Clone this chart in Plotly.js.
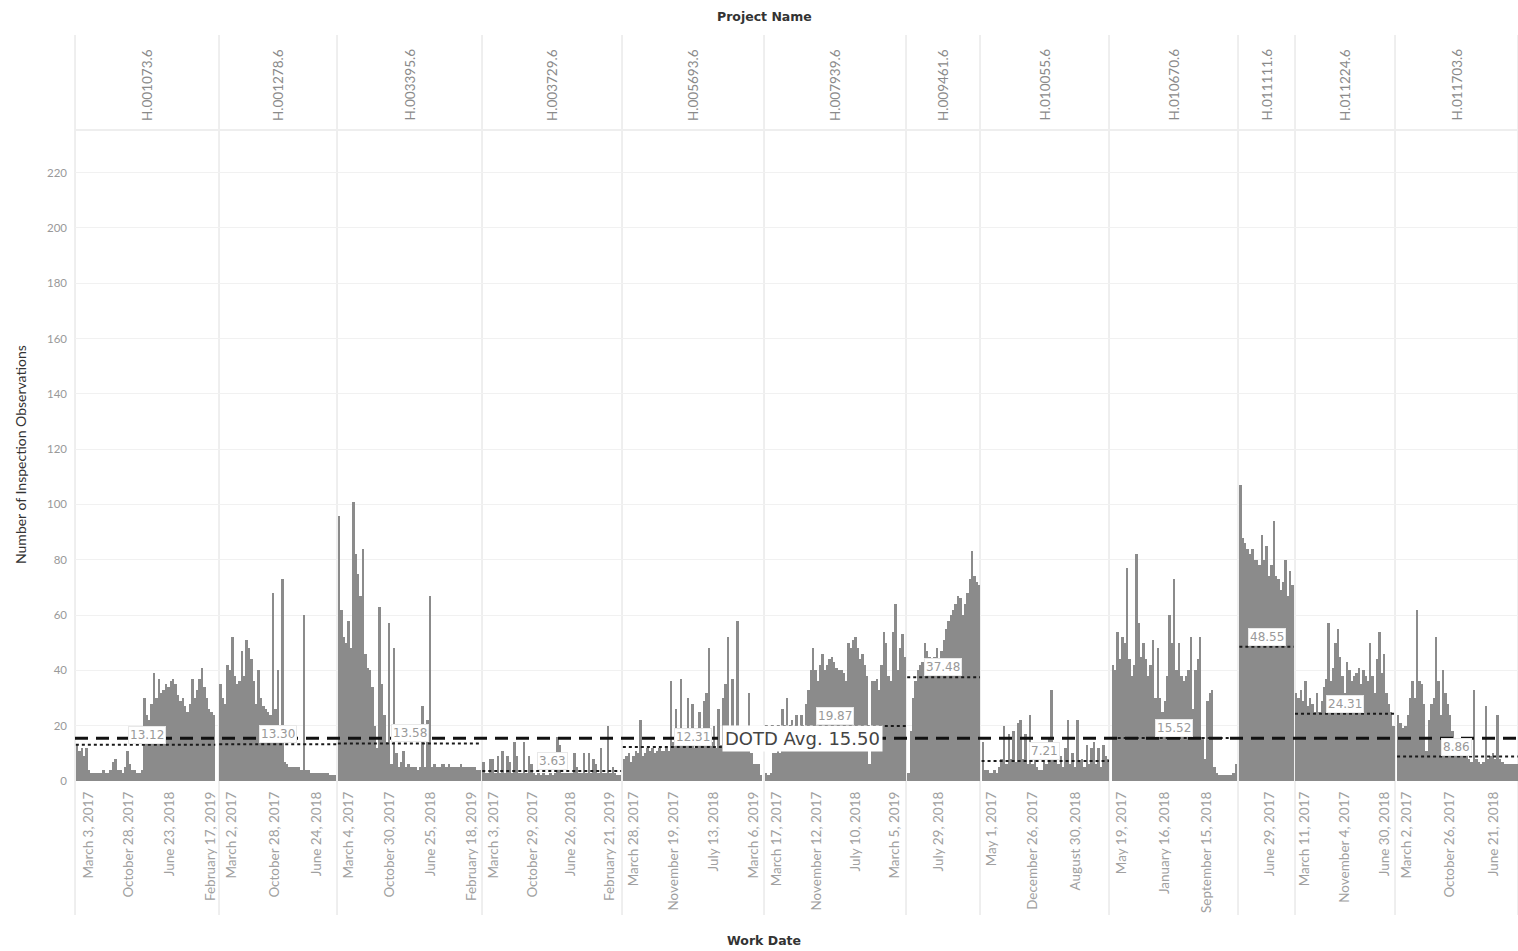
<!DOCTYPE html>
<html><head><meta charset="utf-8">
<script src="https://cdn.plot.ly/plotly-3.0.1.min.js"></script>
<style>html,body{margin:0;padding:0;background:#fff;} #chart{width:1518px;height:951px;}</style>
</head><body><div id="chart"></div>
<script>
// ---------- DATA ----------
const projects = ["H.001073.6","H.001278.6","H.003395.6","H.003729.6","H.005693.6","H.007939.6",
                  "H.009461.6","H.010055.6","H.010670.6","H.011111.6","H.011224.6","H.011703.6"];
const projectAvg = [13.12, 13.30, 13.58, 3.63, 12.31, 19.87, 37.48, 7.21, 15.52, 48.55, 24.31, 8.86];
const dotdAvg = 15.50;
const firstWorkDate = ["2016-12-27","2016-12-28","2017-01-09","2017-01-01","2017-02-01","2017-01-11",
                       "2018-02-03","2017-03-10","2017-03-30","2017-01-06","2017-01-17","2017-01-14"];
const lastWorkDate  = ["2019-03-12","2018-10-05","2019-04-06","2019-04-23","2019-04-20","2019-05-05",
                       "2019-03-28","2019-03-10","2019-02-27","2017-11-09","2018-08-19","2018-10-27"];
const obs1 = [13,11,12,9,12,4,3,3,3,3,3,4,3,3,4,7,8,4,4,3,5,11,6,4,4,3,3,4,30,24,22,28,39,30,37,32,33,35,34,36,37,35,31,29,30,27,25,28,37,30,33,37,41,34,30,26,25,24];
const obs2 = [35,30,28,42,40,52,38,35,36,47,38,51,48,44,36,28,40,30,27,26,25,24,68,26,40,17,73,7,6,5,5,5,5,5,4,60,4,4,3,3,3,3,3,3,3,3,2,2,2];
const obs3 = [96,62,52,50,58,48,101,82,75,67,84,46,41,40,34,20,12,63,35,24,14,57,6,48,10,5,7,11,5,6,5,5,5,4,5,27,5,22,67,5,6,5,5,6,6,5,6,5,5,5,5,6,5,5,5,5,5,5,4,4];
const obs4 = [7,3,3,8,8,3,9,3,11,3,9,7,3,14,9,3,3,14,3,9,6,3,2,3,2,3,2,2,3,2,3,16,13,3,3,3,3,3,10,5,3,3,10,3,10,3,8,6,3,12,3,3,20,3,5,3,2,2];
const obs5 = [8,9,10,7,9,11,10,22,9,10,12,11,12,10,11,12,11,11,12,11,36,14,26,12,37,15,18,30,13,28,12,18,25,12,29,32,48,14,20,12,26,13,30,35,52,14,37,12,58,13,11,11,11,32,10,6,6,6,2];
const obs6 = [3,2,3,10,10,11,10,26,12,30,11,22,12,24,11,24,12,28,33,40,48,40,36,42,46,40,42,44,45,43,41,40,40,39,36,50,48,51,52,48,44,46,42,38,6,36,36,37,33,42,54,50,38,36,54,64,40,48,53,45];
const obs7 = [3,18,30,36,40,42,43,50,47,45,44,45,48,44,47,51,55,58,60,62,64,67,66,60,64,68,73,83,74,72,71];
const obs8 = [14,4,4,3,3,4,3,5,8,20,6,17,8,18,7,21,22,8,17,6,24,6,9,5,4,4,8,6,16,33,8,14,6,9,5,12,22,6,10,5,22,7,8,5,13,6,12,14,6,12,5,13,9,8];
const obs9 = [42,40,54,44,52,50,77,44,38,42,82,57,45,50,44,38,42,51,30,48,30,25,29,38,60,50,73,40,50,38,36,38,40,52,26,40,44,52,16,8,29,32,33,5,3,2,2,2,2,2,2,3,6];
const obs10 = [107,88,86,84,82,84,80,80,78,89,80,85,74,78,94,74,73,69,72,80,67,76,71];
const obs11 = [32,30,33,29,36,27,30,28,25,32,25,29,34,37,57,36,41,50,55,45,38,32,43,40,36,38,39,41,35,40,38,36,50,38,32,44,54,39,46,32,28,25,20];
const obs12 = [24,21,19,20,24,30,36,30,62,36,35,28,11,22,28,30,52,36,24,40,32,28,24,18,14,10,12,11,9,10,8,7,33,8,7,6,7,27,8,9,10,8,24,8,7,6,6,6,6,6,6];
const observations = [obs1,obs2,obs3,obs4,obs5,obs6,obs7,obs8,obs9,obs10,obs11,obs12];
const tickDates = [
  ["2017-03-03","2017-10-28","2018-06-23","2019-02-17"],
  ["2017-03-02","2017-10-28","2018-06-24"],
  ["2017-03-04","2017-10-30","2018-06-25","2019-02-18"],
  ["2017-03-03","2017-10-29","2018-06-26","2019-02-21"],
  ["2017-03-28","2017-11-19","2018-07-13","2019-03-06"],
  ["2017-03-17","2017-11-12","2018-07-10","2019-03-05"],
  ["2018-07-29"],
  ["2017-05-01","2017-12-26","2018-08-30"],
  ["2017-05-19","2018-01-16","2018-09-15"],
  ["2017-06-29"],
  ["2017-03-11","2017-11-04","2018-06-30"],
  ["2017-03-02","2017-10-26","2018-06-21"]
];
const monthNames = ["January","February","March","April","May","June","July","August","September","October","November","December"];

// ---------- LAYOUT CONFIG ----------
const W = 1518, H = 951, ML = 75, MR = 0, MT = 130, MB = 170;
const panelEdgesPx = [75,219,337,482,622,764,906,980,1109,1238,1295,1395,1518];
const axisRanges = [
  ["2016-12-15","2019-04-10"],["2016-12-20","2018-10-16"],["2016-12-28","2019-04-18"],
  ["2016-12-23","2019-05-06"],["2017-01-20","2019-05-08"],["2016-12-30","2019-05-11"],
  ["2018-01-20","2019-04-01"],["2017-02-22","2019-03-15"],["2017-03-08","2019-03-12"],
  ["2016-12-22","2017-11-23"],["2017-01-10","2018-08-28"],["2016-12-27","2018-11-04"]
];
const FONT = "Lato, 'Open Sans', sans-serif";
const FONT2 = "'DejaVu Sans', 'Open Sans', sans-serif";
const plotW = W - ML - MR, plotH = H - MT - MB;
const pxX = px => (px - ML) / plotW;
const pxY = py => (H - MB - py) / plotH;
const fmtDate = s => { const [y,m,d] = s.split("-").map(Number); return monthNames[m-1] + " " + d + ", " + y; };

const traces = [], shapes = [], annotations = [];
const layout = {
  width: W, height: H, margin: {l: ML, r: MR, t: MT, b: MB},
  paper_bgcolor: "#fff", plot_bgcolor: "#fff", showlegend: false, bargap: 0,
  font: {family: FONT, color: "#888"},
  yaxis: {range: [0, 235.4], tickvals: [0,20,40,60,80,100,120,140,160,180,200,220],
          showgrid: true, gridcolor: "#f1f1f1", zeroline: false, showline: false, ticks: "",
          tickfont: {size: 11.5, color: "#999", family: FONT}, ticklabelstandoff: 7, fixedrange: true}
};

projects.forEach((name, k) => {
  const ax = k === 0 ? "x" : "x" + (k + 1);
  const axName = k === 0 ? "xaxis" : "xaxis" + (k + 1);
  const vals = observations[k];
  const t0 = Date.parse(firstWorkDate[k]), t1 = Date.parse(lastWorkDate[k]);
  const step = (t1 - t0) / (vals.length - 1);
  traces.push({
    type: "bar", x: vals.map((_, i) => t0 + i * step), y: vals, width: step,
    xaxis: ax, yaxis: "y", marker: {color: "#8b8b8b", line: {width: 0}}, hoverinfo: "skip"
  });
  layout[axName] = {
    type: "date", domain: [pxX(panelEdgesPx[k]), pxX(panelEdgesPx[k+1])], range: axisRanges[k], anchor: "y",
    showgrid: false, zeroline: false, showline: false, ticks: "",
    tickvals: tickDates[k], ticktext: tickDates[k].map(fmtDate), tickangle: -90,
    tickfont: {size: 13.5, color: "#a0a0a0", family: FONT}, ticklabelstandoff: 7, fixedrange: true
  };
  // project average (dotted)
  shapes.push({type: "line", xref: ax, yref: "y", x0: t0 - step/2, x1: t1 + step/2, y0: projectAvg[k], y1: projectAvg[k],
               line: {color: "#1a1a1a", width: 2, dash: "dot"}, layer: "above"});
  annotations.push({xref: ax + " domain", yref: "y", x: 0.5, y: projectAvg[k], yshift: 10, showarrow: false,
                    xanchor: "center", yanchor: "middle",
                    text: projectAvg[k].toFixed(2), font: {size: 12, color: "#999", family: FONT2},
                    bgcolor: "#ffffff", bordercolor: "#e8e8e8", borderwidth: 1, borderpad: 1});
  // header label
  annotations.push({xref: ax + " domain", yref: "paper", x: 0.5, y: pxY(85), showarrow: false, textangle: -90,
                    xanchor: "center", yanchor: "middle",
                    text: name, font: {size: 13.5, color: "#8a8a8a", family: FONT}});
});

// panel separators
panelEdgesPx.forEach(px => {
  shapes.push({type: "line", xref: "paper", yref: "paper", x0: pxX(px), x1: pxX(px), y0: pxY(915), y1: pxY(35),
               line: {color: "#dedede", width: 1}, layer: "below"});
});
// header bottom line
shapes.push({type: "line", xref: "paper", yref: "paper", x0: 0, x1: 1, y0: 1, y1: 1, line: {color: "#eeeeee", width: 2}, layer: "below"});
// DOTD average dashed line
shapes.push({type: "line", xref: "paper", yref: "y", x0: 0, x1: 1, y0: dotdAvg, y1: dotdAvg,
             line: {color: "#111", width: 3, dash: "13px,8px"}, layer: "above"});
annotations.push({xref: "paper", yref: "y", x: pxX(802), y: dotdAvg, showarrow: false, xanchor: "center", yanchor: "middle",
                  text: "DOTD Avg. " + dotdAvg.toFixed(2), font: {size: 18, color: "#444", family: FONT2},
                  bgcolor: "#ffffff", borderpad: 2});
// titles
annotations.push({xref: "paper", yref: "paper", x: pxX(764), y: pxY(16), showarrow: false, xanchor: "center", yanchor: "middle",
                  text: "<b>Project Name</b>", font: {size: 12.5, color: "#333", family: FONT2}});
annotations.push({xref: "paper", yref: "paper", x: pxX(764), y: pxY(940), showarrow: false, xanchor: "center", yanchor: "middle",
                  text: "<b>Work Date</b>", font: {size: 12.5, color: "#333", family: FONT2}});
annotations.push({xref: "paper", yref: "paper", x: pxX(20), y: pxY(455), showarrow: false, textangle: -90,
                  xanchor: "center", yanchor: "middle",
                  text: "Number of Inspection Observations", font: {size: 14, color: "#333", family: FONT}});

layout.shapes = shapes;
layout.annotations = annotations;
Plotly.newPlot("chart", traces, layout, {displayModeBar: false, staticPlot: true});
</script>
</body></html>
